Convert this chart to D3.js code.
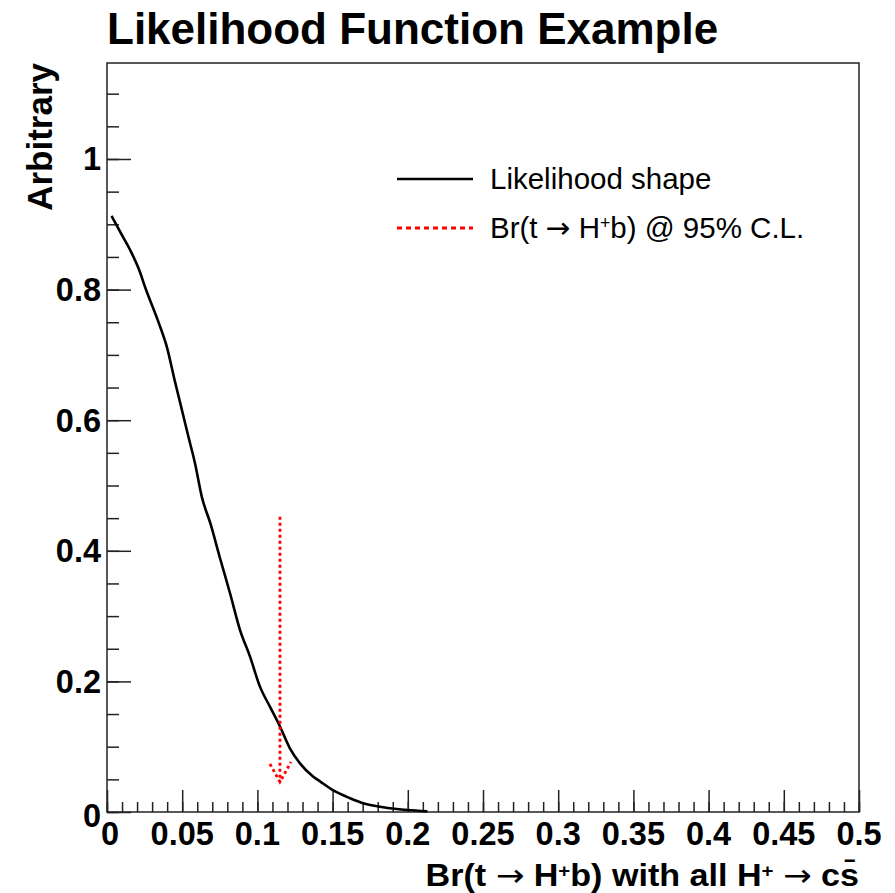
<!DOCTYPE html>
<html>
<head>
<meta charset="utf-8">
<script src="https://cdn.jsdelivr.net/npm/d3@7"></script>
<style>
  body { margin: 0; background: #fff; }
  svg { display: block; }
</style>
</head>
<body>
<svg id="svg"></svg>
<script>
// likelihood shape
const brValues = [0.003, 0.0086, 0.0153, 0.0219, 0.0253, 0.0341, 0.0397, 0.0452, 0.0485, 0.0541, 0.0585, 0.063, 0.069, 0.0751, 0.0818, 0.0884, 0.0951, 0.1017, 0.1084, 0.115, 0.1217, 0.1283, 0.1372, 0.1416, 0.1505, 0.1616, 0.1704, 0.1815, 0.1926, 0.2, 0.213]
const likelihood = [0.913, 0.889, 0.861, 0.827, 0.804, 0.751, 0.713, 0.659, 0.628, 0.575, 0.534, 0.483, 0.44, 0.389, 0.335, 0.279, 0.238, 0.192, 0.161, 0.131, 0.097, 0.0745, 0.054, 0.047, 0.033, 0.021, 0.0133, 0.0081, 0.0046, 0.003, 0.001]

// 95% C.L. limit arrow
const limitBr = 0.115
const arrowFrom = 0.452
const arrowTo = 0.046

const xTickValues = [0, 0.05, 0.1, 0.15, 0.2, 0.25, 0.3, 0.35, 0.4, 0.45, 0.5]
const yTickValues = [0, 0.2, 0.4, 0.6, 0.8, 1]
const xDomain = [0, 0.5]
const yDomain = [0, 1.147]

const title = "Likelihood Function Example"
const yTitle = "Arbitrary"

const width = 895, height = 893
const frameL = 107, frameR = 859, frameT = 63, frameB = 812

const svg = d3.select("#svg").attr("width", width).attr("height", height)
  .style("font-family", "'Liberation Sans', Arial, sans-serif")

const x = d3.scaleLinear().domain(xDomain).range([frameL, frameR])
const y = d3.scaleLinear().domain(yDomain).range([frameB, frameT])

// frame
svg.append("rect")
  .attr("x", frameL).attr("y", frameT)
  .attr("width", frameR - frameL).attr("height", frameB - frameT)
  .attr("fill", "none").attr("stroke", "#222").attr("stroke-width", 1.5)

// x axis: minor every 0.01, major every 0.05
const xAxis = svg.append("g").attr("transform", `translate(0,${frameB})`)
xAxis.append("g")
  .call(d3.axisTop(x).tickValues(d3.range(0, 51).map(d => d / 100)).tickSize(10).tickFormat(""))
xAxis.append("g")
  .call(d3.axisTop(x).tickValues(xTickValues).tickSize(22).tickFormat(""))
xAxis.selectAll(".domain").remove()
xAxis.selectAll("line").attr("stroke", "#222").attr("stroke-width", 1.5)

svg.append("g").selectAll("text")
  .data(xTickValues)
  .enter()
  .append("text")
  .attr("x", d => x(d) + (d === 0 ? 3 : 0))
  .attr("y", 845)
  .attr("text-anchor", "middle")
  .attr("font-size", 32.5)
  .attr("font-weight", "bold")
  .text(d => d3.format("")(d))

// y axis: minor every 0.05, major every 0.2
const yAxis = svg.append("g").attr("transform", `translate(${frameL},0)`)
yAxis.append("g")
  .call(d3.axisRight(y).tickValues(d3.range(0, 23).map(d => d * 0.05)).tickSize(12).tickFormat(""))
yAxis.append("g")
  .call(d3.axisRight(y).tickValues(yTickValues).tickSize(24).tickFormat(""))
yAxis.selectAll(".domain").remove()
yAxis.selectAll("line").attr("stroke", "#222").attr("stroke-width", 1.5)

svg.append("g").selectAll("text")
  .data(yTickValues)
  .enter()
  .append("text")
  .attr("x", 101)
  .attr("y", d => y(d) + 11.5 + (d === 0 ? 3 : 0))
  .attr("text-anchor", "end")
  .attr("font-size", 32.5)
  .attr("font-weight", "bold")
  .text(d => d3.format("")(d))

// likelihood curve
const line = d3.line()
  .x((d, i) => x(brValues[i]))
  .y(d => y(d))
  .curve(d3.curveMonotoneX)

svg.append("path")
  .datum(likelihood)
  .attr("d", line)
  .attr("fill", "none")
  .attr("stroke", "#000")
  .attr("stroke-width", 2.6)

// limit arrow, dotted red
const arrow = svg.append("g")
  .attr("fill", "none")
  .attr("stroke", "#f00")
  .attr("stroke-width", 2.8)
  .attr("stroke-dasharray", "3,3")
arrow.append("line")
  .attr("x1", x(limitBr)).attr("x2", x(limitBr))
  .attr("y1", y(arrowFrom)).attr("y2", y(arrowTo))
arrow.append("path")
  .attr("d", `M${x(limitBr) - 10},${y(arrowTo) - 18} L${x(limitBr)},${y(arrowTo)} L${x(limitBr) + 11},${y(arrowTo) - 20}`)

// titles
svg.append("text")
  .attr("x", frameL).attr("y", 44)
  .attr("font-size", 44).attr("font-weight", "bold")
  .text(title)

svg.append("text")
  .attr("transform", `translate(52,${frameT}) rotate(-90)`)
  .attr("text-anchor", "end")
  .attr("font-size", 35).attr("font-weight", "bold")
  .text(yTitle)

// text with superscript and arrow pieces
function richText(sel, parts) {
  parts.forEach(p => {
    const ts = sel.append("tspan").text(p.t)
    if (p.sup) ts.attr("font-size", "60%").attr("dy", "-0.5em")
    if (p.after) ts.attr("dy", "0.3em")
    if (p.arrow) ts.attr("font-family", "'DejaVu Sans', sans-serif").attr("font-weight", "normal")
  })
}

const xTitle = svg.append("text")
  .attr("transform", `translate(${frameR},886) scale(1.1,1)`)
  .attr("text-anchor", "end")
  .attr("font-size", 31).attr("font-weight", "bold")
richText(xTitle, [
  { t: "Br(t " }, { t: "\u2192", arrow: true }, { t: " H" }, { t: "+", sup: true },
  { t: "b) with all H", after: true }, { t: "+", sup: true },
  { t: " ", after: true }, { t: "\u2192", arrow: true }, { t: " cs\u0304" }
])

// legend
const legend = svg.append("g")
legend.append("line")
  .attr("x1", 397).attr("x2", 473).attr("y1", 179).attr("y2", 179)
  .attr("stroke", "#000").attr("stroke-width", 2.6)
legend.append("text")
  .attr("x", 490).attr("y", 189)
  .attr("font-size", 29.5)
  .text("Likelihood shape")
legend.append("line")
  .attr("x1", 397).attr("x2", 473).attr("y1", 228).attr("y2", 228)
  .attr("stroke", "#f00").attr("stroke-width", 2.8).attr("stroke-dasharray", "5,4")
const legendText = legend.append("text")
  .attr("x", 490).attr("y", 238)
  .attr("font-size", 29.5)
richText(legendText, [
  { t: "Br(t " }, { t: "\u2192", arrow: true }, { t: " H" }, { t: "+", sup: true },
  { t: "b) @ 95% C.L.", after: true }
])
</script>
</body>
</html>
